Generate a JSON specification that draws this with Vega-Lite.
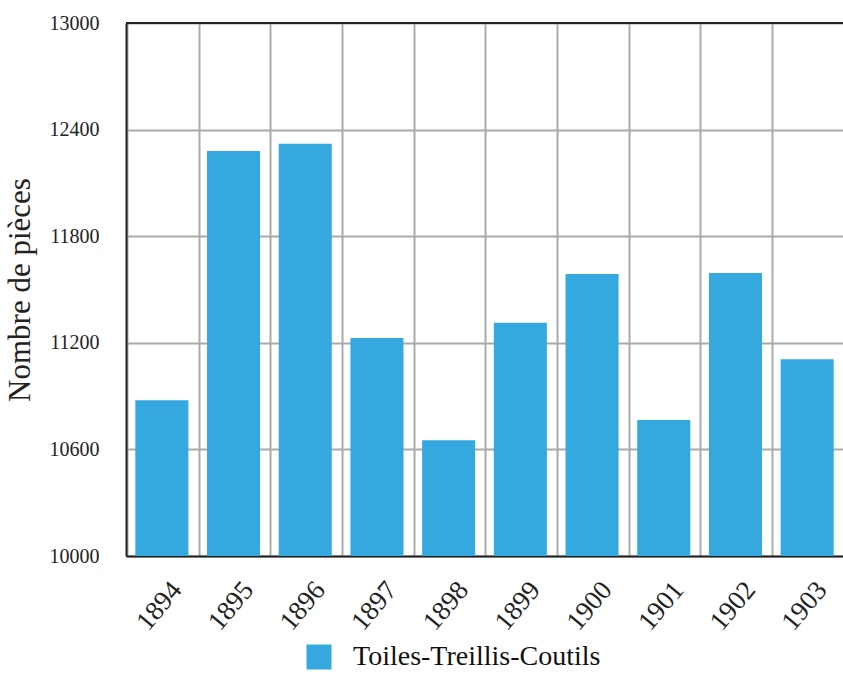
{
  "$schema": "https://vega.github.io/schema/vega-lite/v6.json",
  "width": 717,
  "height": 533,
  "autosize": {"type": "none"},
  "padding": {"left": 126, "top": 23, "right": 0, "bottom": 117},
  "background": "white",
  "config": {
    "font": "Liberation Serif",
    "view": {"stroke": null}
  },
  "data": {
    "values": [
      {"annee": "1894", "serie": "Toiles-Treillis-Coutils", "pieces": 10877},
      {"annee": "1895", "serie": "Toiles-Treillis-Coutils", "pieces": 12280},
      {"annee": "1896", "serie": "Toiles-Treillis-Coutils", "pieces": 12320},
      {"annee": "1897", "serie": "Toiles-Treillis-Coutils", "pieces": 11227},
      {"annee": "1898", "serie": "Toiles-Treillis-Coutils", "pieces": 10652},
      {"annee": "1899", "serie": "Toiles-Treillis-Coutils", "pieces": 11313},
      {"annee": "1900", "serie": "Toiles-Treillis-Coutils", "pieces": 11587},
      {"annee": "1901", "serie": "Toiles-Treillis-Coutils", "pieces": 10765},
      {"annee": "1902", "serie": "Toiles-Treillis-Coutils", "pieces": 11593},
      {"annee": "1903", "serie": "Toiles-Treillis-Coutils", "pieces": 11108}
    ]
  },
  "layer": [
    {
      "mark": {"type": "bar", "clip": true},
      "encoding": {
        "x": {
          "field": "annee",
          "type": "ordinal",
          "scale": {"paddingInner": 0.26, "paddingOuter": 0.13},
          "axis": {
            "title": null,
            "grid": true,
            "gridColor": "#aaaaaa",
            "gridWidth": 2,
            "bandPosition": -0.15,
            "ticks": false,
            "domainColor": "#222222",
            "domainWidth": 2,
            "labelAngle": -50,
            "labelAlign": "right",
            "labelBaseline": "middle",
            "labelOffset": 15,
            "labelFont": "Liberation Serif",
            "labelFontWeight": "normal",
            "labelFontSize": 27,
            "labelColor": "#222222",
            "labelPadding": 29
          }
        },
        "y": {
          "field": "pieces",
          "type": "quantitative",
          "scale": {"domain": [10000, 13000], "zero": false, "nice": false},
          "axis": {
            "title": "Nombre de pièces",
            "titleFont": "Liberation Serif",
            "titleFontSize": 31,
            "titleFontWeight": "normal",
            "titleColor": "#222222",
            "titlePadding": 13,
            "values": [10000, 10600, 11200, 11800, 12400, 13000],
            "format": "d",
            "grid": true,
            "gridColor": "#aaaaaa",
            "gridWidth": 2,
            "ticks": false,
            "domainColor": "#222222",
            "domainWidth": 2,
            "labelFont": "Liberation Serif",
            "labelFontWeight": "normal",
            "labelFontSize": 20,
            "labelColor": "#222222",
            "labelPadding": 27
          }
        },
        "color": {
          "field": "serie",
          "type": "nominal",
          "scale": {"range": ["#35a9df"]},
          "legend": {
            "title": null,
            "orient": "none",
            "legendX": 179,
            "legendY": 620,
            "symbolType": "square",
            "symbolSize": 625,
            "symbolStrokeWidth": 0,
            "labelFont": "Liberation Serif",
            "labelFontSize": 28,
            "labelColor": "#111111",
            "labelOffset": 20,
            "labelLimit": 400
          }
        }
      }
    },
    {
      "mark": {"type": "rule", "color": "#222222", "strokeWidth": 2},
      "encoding": {
        "y": {"datum": 13000, "type": "quantitative"}
      }
    }
  ]
}
